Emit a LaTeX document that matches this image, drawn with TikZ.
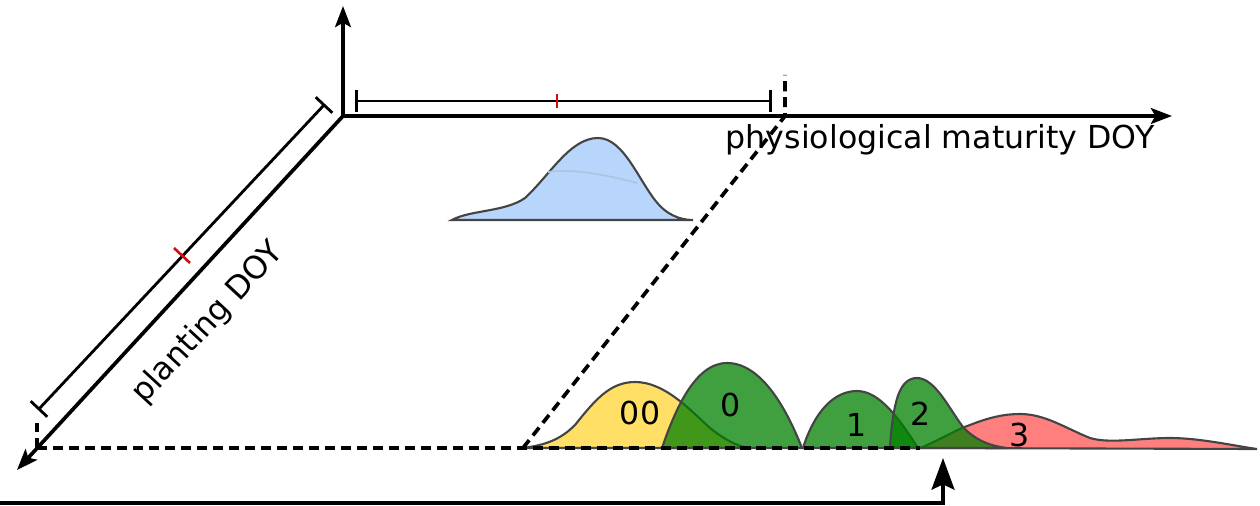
\documentclass[tikz,border=0pt]{standalone}
\usepackage{fontspec}
\setmainfont{DejaVu Sans}
\usepackage{xcolor}
\usetikzlibrary{arrows.meta}
\definecolor{distblue}{HTML}{B8D6FB}
\definecolor{distyellow}{HTML}{FFDF66}
\definecolor{distgreen}{HTML}{008000}
\definecolor{distred}{HTML}{FF0000}
\definecolor{distedge}{HTML}{444444}
\definecolor{tickred}{HTML}{D01010}

\begin{document}
\begin{tikzpicture}[x=0.02cm,y=-0.02cm,
  axis/.style={line width=2.1pt,-{Stealth[length=12pt,width=9pt,inset=2.5pt]}},
  spanbar/.style={line width=1.6pt,{Bar[width=13pt]}-{Bar[width=13pt]}},
  guide/.style={line width=2.1pt,dash pattern=on 5.7pt off 3.4pt},
  midtick/.style={line width=1.5pt,tickred},
  dist/.style={draw=distedge,line width=1.2pt},
  lbl/.style={font=\fontsize{18}{21}\selectfont,inner sep=0pt}]
  \useasboundingbox (0,0) rectangle (1260,506);

  \coordinate (O) at (343,116);
  \coordinate (ytip) at (343,6);
  \coordinate (xtip) at (1172,116);
  \coordinate (ztip) at (17,470);
  \coordinate (lowcorner) at (37,448);
  \coordinate (farcorner) at (523,448);
  \coordinate (topcorner) at (785,116);

  % distributions
  \filldraw[dist,fill=distblue] (452,220) .. controls (470,210) and (505,212) .. (525,198)
    .. controls (550,175) and (570,138) .. (598,138)
    .. controls (625,138) and (640,185) .. (660,206)
    .. controls (672,218) and (685,220) .. (693,220) -- cycle;
  \draw[line width=1pt,distblue!80!gray] (548,172) .. controls (575,168) and (610,176) .. (637,183);

  \filldraw[dist,fill=distyellow] (523,448) .. controls (545,445) and (560,440) .. (575,425)
    .. controls (595,400) and (610,382) .. (635,382)
    .. controls (665,382) and (690,410) .. (710,428)
    .. controls (725,440) and (740,448) .. (752,448) -- cycle;
  \filldraw[dist,fill=distred,fill opacity=0.5] (920,448) .. controls (940,440) and (955,430) .. (970,425)
    .. controls (990,417) and (1005,414) .. (1020,414)
    .. controls (1045,414) and (1065,428) .. (1090,438)
    .. controls (1110,444) and (1140,438) .. (1170,438)
    .. controls (1200,438) and (1235,446) .. (1257,449) -- cycle;
  \filldraw[dist,fill=distgreen,fill opacity=0.75] (662,448) .. controls (675,410) and (695,363) .. (727,363)
    .. controls (760,363) and (785,405) .. (802,448) -- cycle;
  \filldraw[dist,fill=distgreen,fill opacity=0.75] (803,448) .. controls (815,410) and (835,391) .. (857,391)
    .. controls (880,391) and (900,420) .. (918,448) -- cycle;
  \filldraw[dist,fill=distgreen,fill opacity=0.75] (890,448) .. controls (893,400) and (900,378) .. (917,378)
    .. controls (935,378) and (950,410) .. (963,427)
    .. controls (975,440) and (990,446) .. (1007,448) -- cycle;

  \node[lbl] (g00) at (640,413) {00};
  \node[lbl] (g0) at (731,405) {0};
  \node[lbl] (g1) at (857,425) {1};
  \node[lbl] (g2) at (921,414) {2};
  \node[lbl] (g3) at (1020,435) {3};

  % axes
  \draw[axis] (O) -- (ytip);
  \draw[axis] (O) -- (xtip);
  \draw[axis] (O) -- (ztip);
  \node[lbl] (xlabel) at (940,140) {physiological maturity DOY};
  \node[lbl,rotate=47.3] (zlabel) at (208,323) {planting DOY};

  % ranges
  \draw[spanbar] (355,101) -- (772,101);
  \draw[midtick] (557,94) -- (557,108);
  \draw[spanbar] (325,104) -- (38,410);
  \draw[midtick] (174,248) -- (190,263);

  % projection guides
  \draw[guide] (lowcorner) -- (37,423);
  \draw[guide] (lowcorner) -- (920,448);
  \draw[guide] (farcorner) -- (topcorner) -- (785,75);

  \draw[line width=2.1pt,-{Stealth[length=18pt,width=13pt,inset=3pt]}] (0,503) -- (943,503) -- (943,458);
\end{tikzpicture}
\end{document}
